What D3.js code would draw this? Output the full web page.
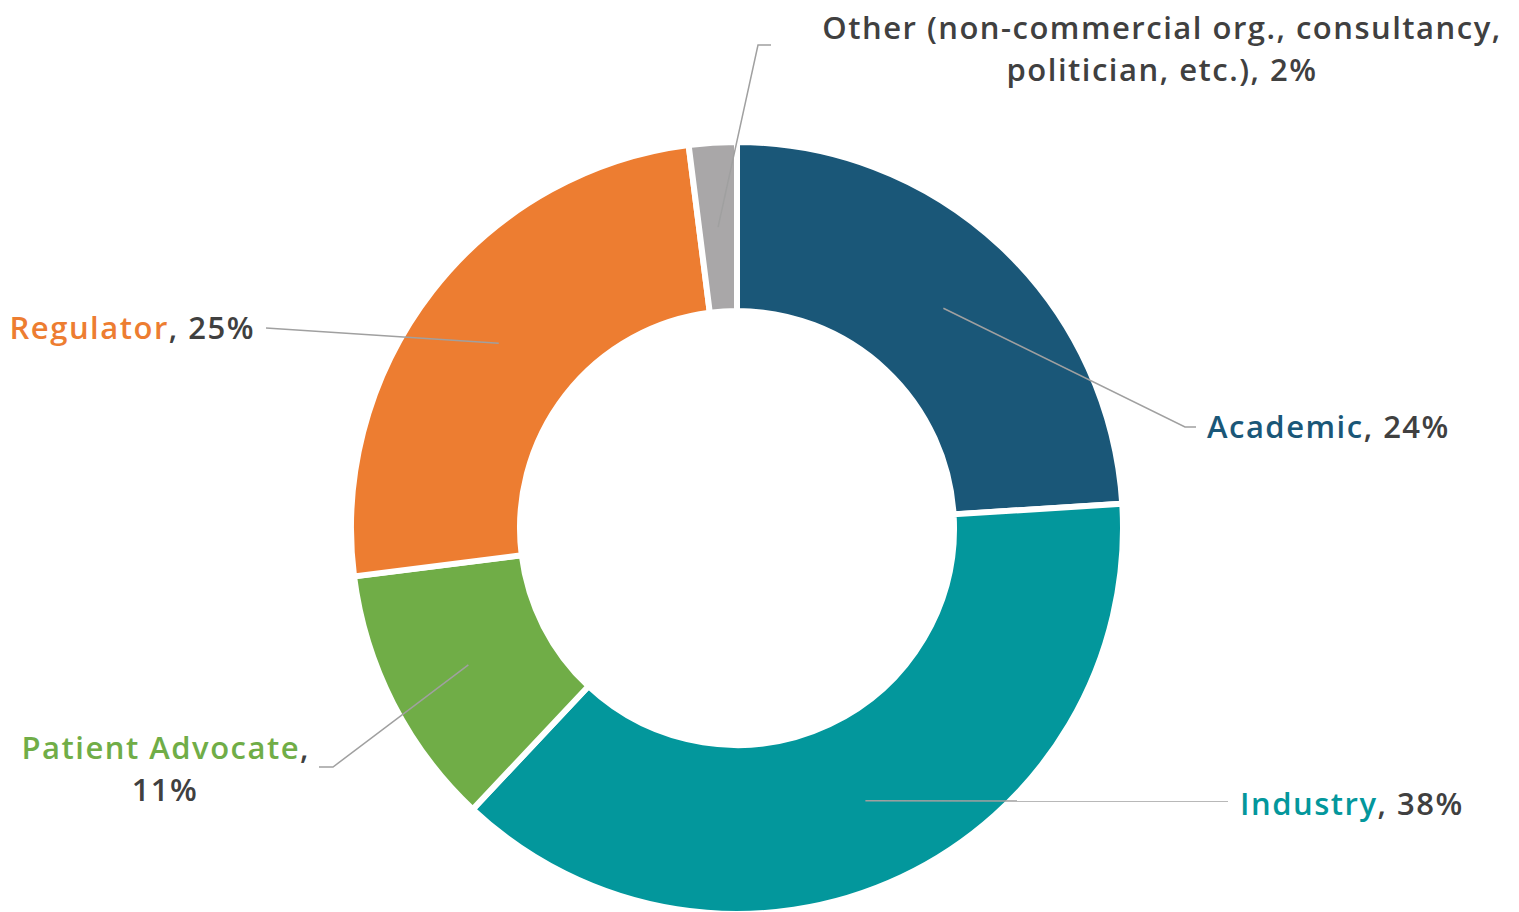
<!DOCTYPE html>
<html><head><meta charset="utf-8">
<script src="https://cdn.jsdelivr.net/npm/d3@7"></script>
<style>body{margin:0;background:#fff}svg{display:block}text{font-family:"Open Sans",Lato,sans-serif;font-weight:600;letter-spacing:1.5px}</style>
</head><body><svg id="c" width="1519" height="912"></svg>
<script>
const categories = ["Academic", "Industry", "Patient Advocate", "Regulator", "Other (non-commercial org., consultancy, politician, etc.)"];
const values = [24, 38, 11, 25, 2];
const colors = ["#1a5778", "#03979c", "#70ad47", "#ed7d31", "#a9a7a8"];

// label layout (positions only)
const labelLayout = [
  {lines: [[["Academic", 0], [", 24%", 1]]], x: 1207, y: 427, anchor: "start", path: [[1185, 427], [1196, 427]]},
  {lines: [[["Industry", 0], [", 38%", 1]]], x: 1240, y: 804, anchor: "start", path: [[1228, 801]]},
  {lines: [[["Patient Advocate", 0], [",", 1]], [["11%", 1]]], x: 310, y: 748, anchor: "end", x2: 165, path: [[333, 767], [319, 767]]},
  {lines: [[["Regulator", 0], [", 25%", 1]]], x: 255, y: 328, anchor: "end", path: [[266, 328]]},
  {lines: [[["Other (non-commercial org., consultancy,", 1]], [["politician, etc.), 2%", 1]]], x: 1162, y: 28, anchor: "middle", x2: 1162, path: [[758, 45], [771, 45]]}
];

const svg = d3.select("#c");
const cx = 737, cy = 528, rOuter = 386, rInner = 217;
const g = svg.append("g").attr("transform", `translate(${cx},${cy})`);
const pie = d3.pie().sort(null).value(d => d)(values);
const arc = d3.arc().innerRadius(rInner).outerRadius(rOuter);
g.selectAll("path.slice").data(pie).join("path").attr("class", "slice")
  .attr("d", arc).attr("fill", (d, i) => colors[i]).attr("stroke", "#fff").attr("stroke-width", 6).attr("stroke-linejoin", "miter");

const fontSize = 31;
pie.forEach((d, i) => {
  const L = labelLayout[i];
  const c = arc.centroid(d);
  const pts = [[cx + c[0], cy + c[1]], ...L.path];
  svg.append("path").attr("d", d3.line()(pts)).attr("fill", "none").attr("stroke", "#a0a0a0").attr("stroke-width", 1.5);
  L.lines.forEach((line, li) => {
    const t = svg.append("text")
      .attr("x", li === 0 ? L.x : L.x2)
      .attr("y", L.y + li * 42)
      .attr("dy", "0.35em")
      .attr("font-size", fontSize)
      .attr("text-anchor", li === 0 ? L.anchor : "middle");
    line.forEach(([s, k]) => t.append("tspan").text(s).attr("fill", k === 0 ? colors[i] : "#404040"));
  });
});
</script></body></html>
